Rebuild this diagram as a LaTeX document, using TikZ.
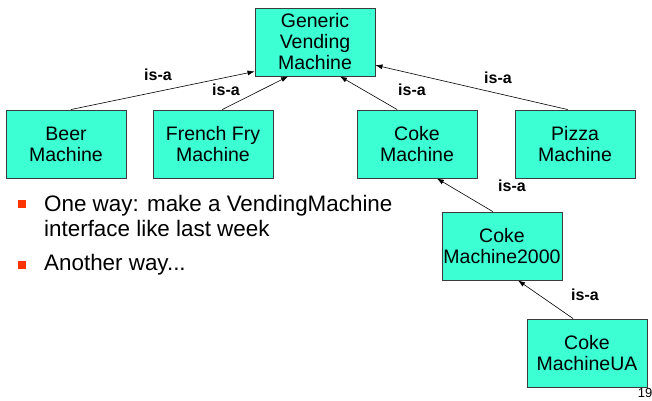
\documentclass[tikz,border=0pt]{standalone}
\usepackage{fontspec}
\setmainfont{Liberation Sans}
\usetikzlibrary{positioning, arrows.meta}
\definecolor{boxfill}{RGB}{60,255,212}
\definecolor{boxline}{RGB}{60,60,60}
\definecolor{bulletred}{RGB}{255,51,0}

\begin{document}
\begin{tikzpicture}[x=1pt, y=-1pt,
    machine/.style={draw=boxline, fill=boxfill, line width=0.9pt, minimum width=120pt, minimum height=68pt,
        align=center, inner sep=0pt, font=\fontsize{19.5}{21}\selectfont},
    isa/.style={-{Latex[length=7pt, width=5pt]}, line width=0.6pt},
    isalabel/.style={font=\fontsize{16}{18}\selectfont\bfseries},
    bullet/.style={fill=bulletred, minimum size=8pt, inner sep=0pt},
    bullettext/.style={anchor=west, align=left, inner sep=0pt, font=\fontsize{22.4}{25}\selectfont}]
    \useasboundingbox (0,0) rectangle (652,400);

    % Klassen
    \node[machine] (gvm) at (315,42) {Generic\\Vending\\Machine};
    \node[machine] (beer) at (66,144) {Beer\\Machine};
    \node[machine] (fry) at (213,144) {French Fry\\Machine};
    \node[machine] (coke) at (417,144) {Coke\\Machine};
    \node[machine] (pizza) at (575,144) {Pizza\\Machine};
    \node[machine] (coke2k) at (502,246) {Coke\\Machine2000};
    \node[machine] (cokeua) at (587,353) {Coke\\MachineUA};

    % Vererbung
    \draw[isa] (beer.82) -- (gvm.206);
    \draw[isa] (fry.75) -- (gvm.232);
    \draw[isa] (coke.120) -- (gvm.306);
    \draw[isa] (pizza.102) -- (gvm.339);
    \draw[isa] (coke2k.105) -- (coke.300);
    \draw[isa] (cokeua.112) -- (coke2k.295);

    \node[isalabel] (l1) at (158,75) {is-a};
    \node[isalabel] (l2) at (226,90) {is-a};
    \node[isalabel] (l3) at (412,90) {is-a};
    \node[isalabel] (l4) at (498,78) {is-a};
    \node[isalabel] (l5) at (512,186) {is-a};
    \node[isalabel] (l6) at (585,295) {is-a};

    % Aufzaehlung
    \node[bullet] (b1) at (22,204) {};
    \node[bullet] (b2) at (22,265) {};
    \node[bullettext] (t1) at (44,216) {One way: make a VendingMachine\\interface like last week};
    \node[bullettext] (t2) at (44,265) {Another way...};

    % Seitenzahl
    \node[font=\fontsize{13}{14}\selectfont, inner sep=0pt] (page) at (645,393) {19};
\end{tikzpicture}
\end{document}
